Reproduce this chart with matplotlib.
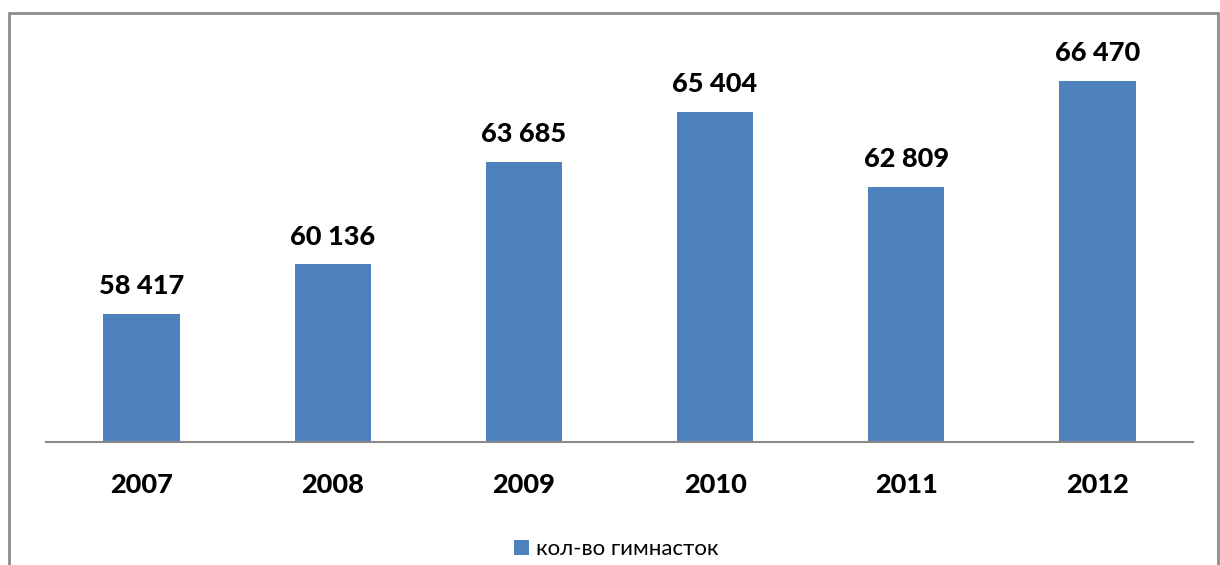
import matplotlib.pyplot as plt
from matplotlib.patches import Rectangle

years = ['2007', '2008', '2009', '2010', '2011', '2012']
counts = [58417, 60136, 63685, 65404, 62809, 66470]
series_name = 'кол-во гимнасток'

plt.rcParams['font.family'] = ['Lato', 'DejaVu Sans']

fig = plt.figure(figsize=(12.2, 5.65), dpi=100)
W, H = 1220, 565
ax = fig.add_axes([46 / W, 1 - 442 / H, (1193 - 46) / W, (442 - 37) / H])

x = range(len(years))
bars = ax.bar(x, counts, width=0.4, color='#4F81BD', label=series_name)
ax.set_xlim(-0.5, len(years) - 0.5)
ax.set_ylim(54000, 68000)

for rect, v in zip(bars, counts):
    ax.annotate(f'{v:,}'.replace(',', ' '), (rect.get_x() + rect.get_width() / 2, v),
                xytext=(0, 11.5), textcoords='offset points', ha='center', va='bottom',
                fontsize=19.5, fontweight=900)

ax.set_xticks(list(x))
ax.set_xticklabels(years, fontsize=19.5, fontweight=900)
ax.tick_params(axis='x', length=0, pad=22)
ax.set_yticks([])
for s in ['left', 'right', 'top']:
    ax.spines[s].set_visible(False)
ax.spines['bottom'].set_color('#898989')
ax.spines['bottom'].set_linewidth(1.5)

leg = fig.legend(loc='center', bbox_to_anchor=(616 / W, 1 - 549 / H), frameon=False,
                 fontsize=16, handlelength=0.68, handleheight=0.68, handletextpad=0.3)

# outer chart border
fig.patches.append(Rectangle((9 / W, -0.1), (1218 - 9) / W, 1 - 13 / H + 0.1,
                             transform=fig.transFigure, fill=False,
                             edgecolor='#8c8c8c', linewidth=2))

fig.savefig('out.png', dpi=100)
